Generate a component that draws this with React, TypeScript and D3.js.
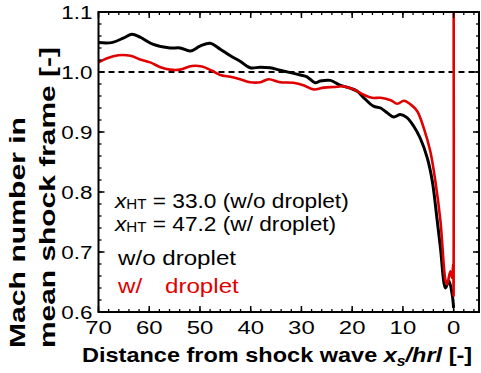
import * as d3 from "d3";

const distNoDrop = [70, 67.4, 65, 63.4, 61.8, 59.2, 55.9, 53.9, 51.9, 50, 48, 46, 44, 42.1, 40.1, 38.1, 36.2, 34.2, 32.2, 30.2, 28.9, 27.3, 26.3, 24.3, 22.4, 20.4, 19, 17.7, 15.8, 14.4, 13.1, 11.8, 10.5, 9.2, 7.9, 6.6, 5.2, 4.2, 3.3, 2.6, 1.6, 0.95, 0.3, 0];
const machNoDrop = [1.049, 1.049, 1.057, 1.063, 1.058, 1.046, 1.04, 1.04, 1.035, 1.043, 1.048, 1.038, 1.027, 1.018, 1.007, 1.008, 1.007, 1.003, 0.999, 0.995, 0.992, 0.982, 0.985, 0.986, 0.978, 0.973, 0.968, 0.957, 0.943, 0.94, 0.932, 0.925, 0.929, 0.924, 0.91, 0.89, 0.857, 0.818, 0.757, 0.707, 0.64, 0.652, 0.63, 0.607];

const distDrop = [70, 68.3, 66.1, 63.7, 61.8, 59.8, 57.8, 55.9, 53.9, 51.6, 49.6, 47.6, 46, 44, 42.1, 40.1, 38.1, 36.5, 34.2, 31.6, 29.6, 27.6, 25.6, 23.6, 21.7, 19.7, 17.7, 16.1, 14.4, 12.4, 11.1, 9.8, 8.5, 7.2, 5.9, 4.6, 3.6, 2.6, 1.6, 1.3, 0.65, 0.3, 0.1, 0, 0];
const machDrop = [1.016, 1.023, 1.028, 1.027, 1.021, 1.016, 1.008, 1.004, 1.004, 1.01, 1.009, 1.002, 0.995, 0.992, 0.988, 0.983, 0.983, 0.988, 0.983, 0.982, 0.978, 0.971, 0.974, 0.975, 0.976, 0.971, 0.962, 0.957, 0.957, 0.953, 0.947, 0.952, 0.946, 0.935, 0.907, 0.868, 0.818, 0.752, 0.652, 0.646, 0.668, 0.657, 0.68, 0.627, 1.15];

const xTicks = [70, 60, 50, 40, 30, 20, 10, 0];
const yTicks = [0.6, 0.7, 0.8, 0.9, 1.0, 1.1];
const xHT = [33.0, 47.2];

const font = "'Liberation Sans', Arial, Helvetica, sans-serif";
const red = "#e00000";

export default function App() {
  const W = 481, H = 373;
  const left = 98.5, right = 479, top = 12, bottom = 312;

  const x = d3.scaleLinear().domain([70, -5]).range([left, right]);
  const y = d3.scaleLinear().domain([0.6, 1.1]).range([bottom, top]);

  const line = d3.line<[number, number]>()
    .x(d => x(d[0]))
    .y(d => y(d[1]))
    .curve(d3.curveCatmullRom.alpha(0.5));
  const blackPts = distNoDrop.map((d, i) => [d, machNoDrop[i]] as [number, number]);
  const redPts = distDrop.map((d, i) => [d, machDrop[i]] as [number, number]);

  const xMinor = d3.range(70, -5, -2);
  const yMinor = d3.range(0.6, 1.1001, 0.02);

  return (
    <svg width={W} height={H} style={{ position: "absolute", left: 0, top: 0 }}>
      <defs>
        <clipPath id="plot">
          <rect x={left} y={top} width={right - left} height={bottom - top} />
        </clipPath>
      </defs>

      <g clipPath="url(#plot)">
        <line x1={left} x2={right} y1={y(1)} y2={y(1)} stroke="#000" strokeWidth={2} strokeDasharray="6,4" />
        <path d={line(blackPts) || ""} fill="none" stroke="#000" strokeWidth={3} strokeLinejoin="round" />
        <path d={line(redPts) || ""} fill="none" stroke={red} strokeWidth={2.6} strokeLinejoin="round" />
      </g>

      {/* minor ticks, inward on all four sides */}
      {xMinor.map(v => (
        <g key={"xm" + v}>
          <line x1={x(v)} x2={x(v)} y1={bottom} y2={bottom - 3} stroke="#000" strokeWidth={1.3} />
          <line x1={x(v)} x2={x(v)} y1={top} y2={top + 3} stroke="#000" strokeWidth={1.3} />
        </g>
      ))}
      {yMinor.map(v => (
        <g key={"ym" + v}>
          <line x1={left} x2={left + 3} y1={y(v)} y2={y(v)} stroke="#000" strokeWidth={1.3} />
          <line x1={right} x2={right - 3} y1={y(v)} y2={y(v)} stroke="#000" strokeWidth={1.3} />
        </g>
      ))}
      {xTicks.map(v => (
        <g key={"x" + v}>
          <line x1={x(v)} x2={x(v)} y1={bottom} y2={bottom - 6} stroke="#000" strokeWidth={1.5} />
          <line x1={x(v)} x2={x(v)} y1={top} y2={top + 6} stroke="#000" strokeWidth={1.5} />
          <text transform={`translate(${x(v)},334) scale(1.26,1)`} textAnchor="middle" fontFamily={font} fontSize={19}>{v}</text>
        </g>
      ))}
      {yTicks.map(v => (
        <g key={"y" + v}>
          <line x1={left} x2={left + 6} y1={y(v)} y2={y(v)} stroke="#000" strokeWidth={1.5} />
          <line x1={right} x2={right - 6} y1={y(v)} y2={y(v)} stroke="#000" strokeWidth={1.5} />
          <text transform={`translate(92.5,${y(v) + 7}) scale(1.18,1)`} textAnchor="end" fontFamily={font} fontSize={19}>{v.toFixed(1)}</text>
        </g>
      ))}

      <rect x={left} y={top} width={right - left} height={bottom - top} fill="none" stroke="#000" strokeWidth={2} />

      {/* legend / annotations */}
      <g fontFamily={font} fontSize={21}>
        {xHT.map((v, i) => (
          <text key={"ht" + i} transform={`translate(115,${208 + i * 22.5}) scale(1.08,1)`}>
            <tspan fontStyle="italic">x</tspan>
            <tspan fontSize={14} dy={1}>HT</tspan>
            <tspan dy={-1}>{` = ${v.toFixed(1)} (${i === 0 ? "w/o" : "w/"} droplet)`}</tspan>
          </text>
        ))}
        <text transform="translate(118,265) scale(1.15,1)" fill="#000">w/o droplet</text>
        <text transform="translate(118,293) scale(1.15,1)" fill={red}>w/</text>
        <text transform="translate(165,293) scale(1.15,1)" fill={red}>droplet</text>
      </g>

      {/* axis titles */}
      <text transform="translate(82,362) scale(1.12,1)" fontFamily={font} fontSize={21} fontWeight="bold">
        Distance from shock wave <tspan fontStyle="italic">x</tspan><tspan fontStyle="italic" fontSize={14} dy={4}>s</tspan><tspan fontStyle="italic" dy={-4}>/hrl</tspan> [-]
      </text>
      <g fontFamily={font} fontSize={22} fontWeight="bold">
        <text transform="translate(25,348) rotate(-90) scale(1.37,1)">Mach number in</text>
        <text transform="translate(55,348) rotate(-90) scale(1.36,1)">mean shock frame [-]</text>
      </g>
    </svg>
  );
}
